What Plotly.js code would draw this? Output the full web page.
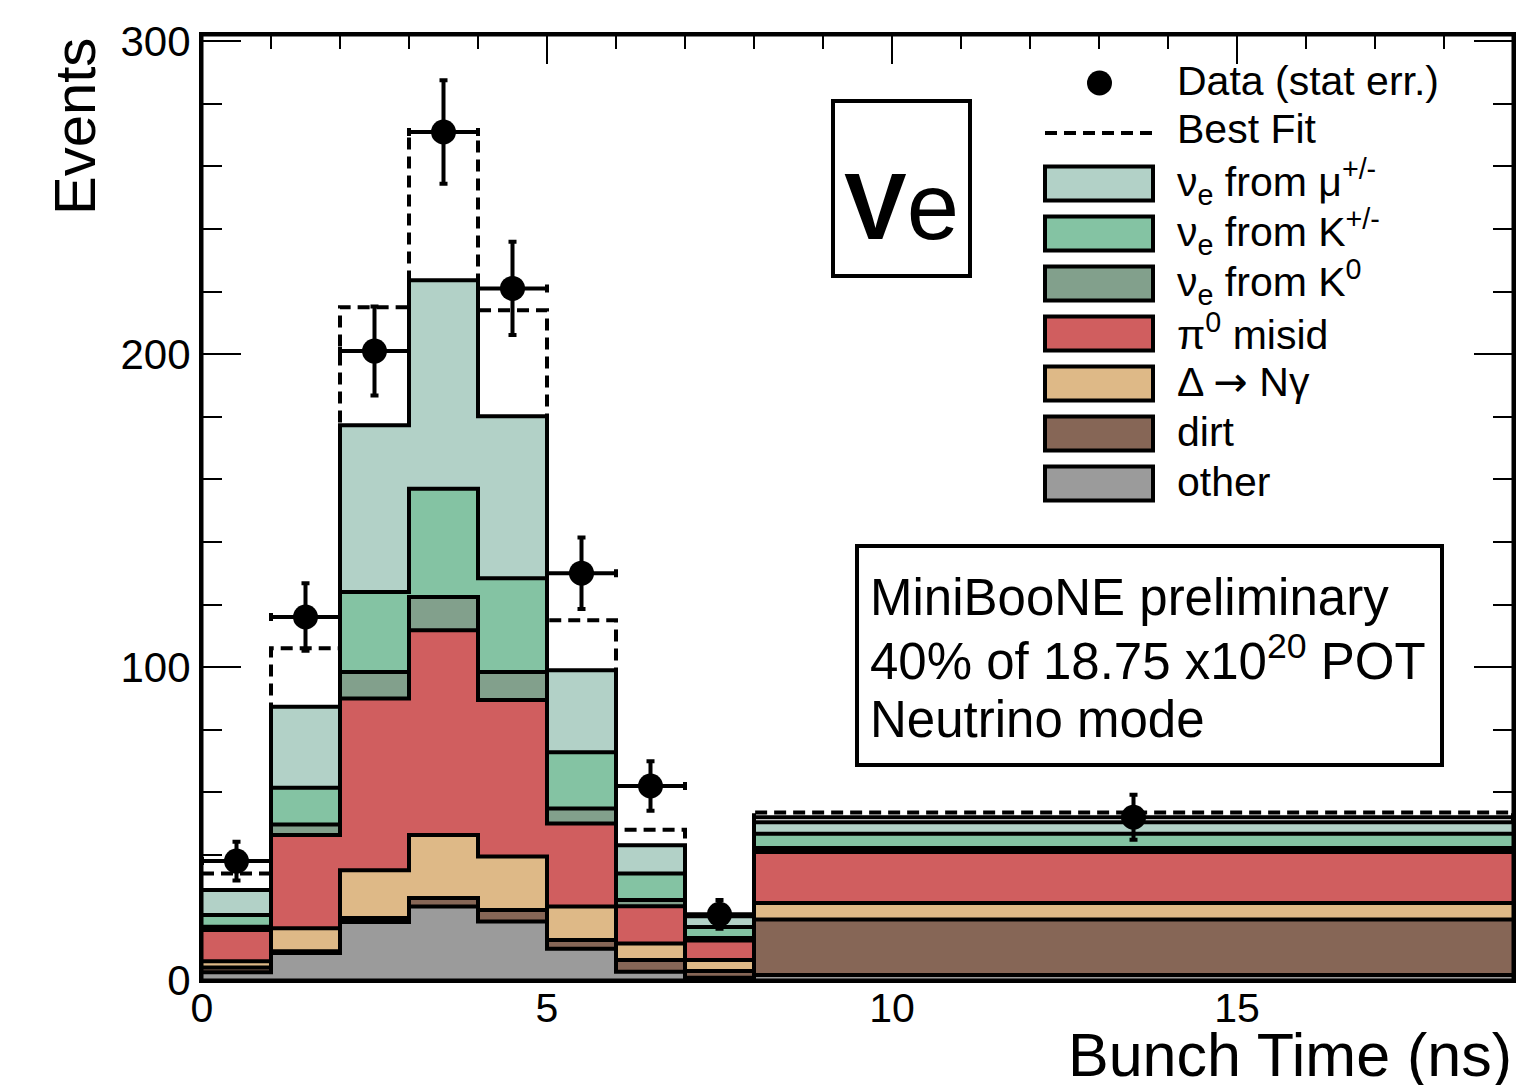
<!DOCTYPE html>
<html>
<head>
<meta charset="utf-8">
<script src="https://cdn.plot.ly/plotly-3.0.1.min.js"></script>
<style>html,body{margin:0;padding:0;background:#fff;}#chart{width:1517px;height:1085px;}</style>
</head>
<body>
<div id="chart"></div>
<script>
// ---- data ----
const binEdges = [0, 1, 2, 3, 4, 5, 6, 7, 8, 19];
const otherVals = [2.5, 8.6, 18.5, 23.5, 18.7, 10.0, 2.6, 0.7, 1.6];
const dirtVals  = [1.5, 0.6, 1.3, 2.7, 3.7, 2.8, 3.8, 2.2, 17.7];
const deltaVals = [2.0, 7.3, 15.3, 20.1, 17.1, 10.7, 5.3, 3.5, 5.3];
const pi0Vals   = [10.0, 29.8, 54.9, 65.5, 50.0, 26.5, 11.9, 6.2, 16.3];
const k0Vals    = [1.0, 3.4, 8.4, 10.6, 8.9, 4.8, 2.0, 0.8, 1.3];
const kpmVals   = [3.8, 11.7, 25.6, 34.6, 30.0, 18.0, 8.4, 3.5, 4.5];
const muVals    = [8.0, 25.9, 53.3, 66.6, 51.8, 26.2, 9.1, 3.5, 3.7];
const dataCounts = [38, 116, 201, 271, 221, 130, 62, 21, 52];
const dataErrors = [6.2, 10.8, 14.2, 16.5, 14.9, 11.4, 7.9, 4.6, 7.2];
const bestFitVals = [34, 106, 215, 271, 214, 115, 48, 20, 53.5];

const componentNames = ["other", "dirt",
  "Δ <span style=\"font-family:DejaVu Sans\">→</span> Nγ", "π<sup>0</sup> misid",
  "ν<sub>e</sub> from K<sup>0</sup>", "ν<sub>e</sub> from K<sup>+/-</sup>", "ν<sub>e</sub> from μ<sup>+/-</sup>"];
const componentValues = [otherVals, dirtVals, deltaVals, pi0Vals, k0Vals, kpmVals, muVals];
const componentColors = ["#9b9b9b", "#866656", "#deb987", "#d05e5f", "#82a08c", "#84c3a3", "#b2d1c7"];

// ---- helpers ----
const FONT = "Liberation Sans, Arial, Helvetica, DejaVu Sans, sans-serif";
const L = 202, T = 35, W = 1311, H = 945;
const px = x => (x - L) / W;
const py = y => (T + H - y) / H;
const stepY = v => v.concat([v[v.length - 1]]);

// cumulative stacks
const cum = [];
componentValues.forEach((vals, k) => {
  cum.push(vals.map((v, i) => v + (k > 0 ? cum[k - 1][i] : 0)));
});

const traces = [];
traces.push({
  x: binEdges, y: stepY(bestFitVals), type: "scatter", mode: "lines",
  line: {shape: "hv", color: "black", width: 4, dash: "12px,7px"},
  hoverinfo: "skip", showlegend: false
});
for (let k = cum.length - 1; k >= 0; k--) {
  traces.push({
    x: binEdges, y: stepY(cum[k]), type: "scatter", mode: "lines",
    line: {shape: "hv", color: "black", width: 4},
    fill: "tozeroy", fillcolor: componentColors[k],
    hoverinfo: "skip", showlegend: false
  });
}
const centers = binEdges.slice(0, -1).map((e, i) => (e + binEdges[i + 1]) / 2);
const halfW = binEdges.slice(0, -1).map((e, i) => (binEdges[i + 1] - e) / 2);
traces.push({
  x: centers, y: dataCounts, type: "scatter", mode: "markers",
  marker: {color: "black", size: 25},
  error_y: {type: "data", array: dataErrors, visible: true, color: "black", thickness: 4, width: 4},
  error_x: {type: "data", array: halfW, visible: true, color: "black", thickness: 4, width: 4},
  hoverinfo: "skip", showlegend: false
});

// ---- legend, boxes, annotations ----
const shapes = [];
const annotations = [];
// frame on top
shapes.push({type: "rect", xref: "paper", yref: "paper", x0: 0, x1: 1, y0: 0, y1: 1,
  line: {color: "black", width: 3}, layer: "above"});

// legend
shapes.push({type: "circle", xref: "paper", yref: "paper", layer: "above",
  x0: px(1087), x1: px(1112), y0: py(95.5), y1: py(70.5), fillcolor: "black", line: {width: 0}});
annotations.push({xref: "paper", yref: "paper", x: px(1175), y: py(81), xanchor: "left", yanchor: "middle",
  text: "Data (stat err.)", showarrow: false, font: {family: FONT, size: 41, color: "black"}});
shapes.push({type: "line", xref: "paper", yref: "paper", layer: "above",
  x0: px(1045), x1: px(1153), y0: py(133), y1: py(133), line: {color: "black", width: 4, dash: "12px,7px"}});
annotations.push({xref: "paper", yref: "paper", x: px(1175), y: py(129), xanchor: "left", yanchor: "middle",
  text: "Best Fit", showarrow: false, font: {family: FONT, size: 41, color: "black"}});
for (let r = 0; r < 7; r++) {
  const k = 6 - r;
  const yc = 183.5 + r * 50;
  shapes.push({type: "rect", xref: "paper", yref: "paper", layer: "above",
    x0: px(1045), x1: px(1153), y0: py(yc + 17), y1: py(yc - 17),
    fillcolor: componentColors[k], line: {color: "black", width: 4}});
  annotations.push({xref: "paper", yref: "paper", x: px(1175), y: py(yc - 2), xanchor: "left", yanchor: "middle",
    text: componentNames[k], showarrow: false, font: {family: FONT, size: 41, color: "black"}});
}

// Ve box
shapes.push({type: "rect", xref: "paper", yref: "paper", layer: "above",
  x0: px(833), x1: px(970), y0: py(276), y1: py(101), line: {color: "black", width: 4}, fillcolor: "white"});
annotations.push({xref: "paper", yref: "paper", x: px(902), y: py(206), xanchor: "center", yanchor: "middle",
  text: "<b>V</b>e", showarrow: false, font: {family: FONT, size: 94, color: "black"}});

// MiniBooNE box
shapes.push({type: "rect", xref: "paper", yref: "paper", layer: "above",
  x0: px(857), x1: px(1442), y0: py(765), y1: py(546), line: {color: "black", width: 4}, fillcolor: "white"});
const boxLines = ["MiniBooNE preliminary", "40% of 18.75 x10<sup>20</sup> POT", "Neutrino mode"];
boxLines.forEach((t, i) => {
  annotations.push({xref: "paper", yref: "paper", x: px(868), y: py(597 + i * 61), xanchor: "left", yanchor: "middle",
    text: t, showarrow: false, font: {family: FONT, size: 51, color: "black"}});
});

// axis titles
annotations.push({xref: "paper", yref: "paper", x: 1, y: py(1085), xanchor: "right", yanchor: "bottom",
  yshift: -5, borderpad: 0,
  text: "Bunch Time (ns)", showarrow: false, font: {family: FONT, size: 61, color: "black"}});
annotations.push({xref: "paper", yref: "paper", x: px(75), y: py(127), xanchor: "center", yanchor: "middle",
  text: "Events", textangle: -90, showarrow: false, font: {family: FONT, size: 58, color: "black"}});

const layout = {
  width: 1517, height: 1085,
  margin: {l: L, r: 1517 - L - W, t: T, b: 1085 - T - H},
  paper_bgcolor: "white", plot_bgcolor: "white",
  showlegend: false,
  xaxis: {
    range: [0, 19], tickvals: [0, 5, 10, 15], ticktext: ["0", "5", "10", "15"],
    ticks: "inside", ticklen: 29, tickwidth: 2, tickcolor: "black",
    minor: {dtick: 1, tick0: 0, ticks: "inside", ticklen: 14, tickwidth: 2, tickcolor: "black"},
    showline: true, linecolor: "black", linewidth: 3, mirror: "ticks",
    showgrid: false, zeroline: false, layer: "below traces",
    ticklabelstandoff: -10,
    tickfont: {family: FONT, size: 41, color: "black"}
  },
  yaxis: {
    range: [0, 302], tickvals: [0, 100, 200, 300],
    ticks: "inside", ticklen: 39, tickwidth: 2, tickcolor: "black",
    minor: {dtick: 20, tick0: 0, ticks: "inside", ticklen: 20, tickwidth: 2, tickcolor: "black"},
    showline: true, linecolor: "black", linewidth: 3, mirror: "ticks",
    showgrid: false, zeroline: false, layer: "below traces",
    tickfont: {family: FONT, size: 42, color: "black"}
  },
  shapes: shapes,
  annotations: annotations
};

Plotly.newPlot("chart", traces, layout, {displayModeBar: false, staticPlot: true});
</script>
</body>
</html>
